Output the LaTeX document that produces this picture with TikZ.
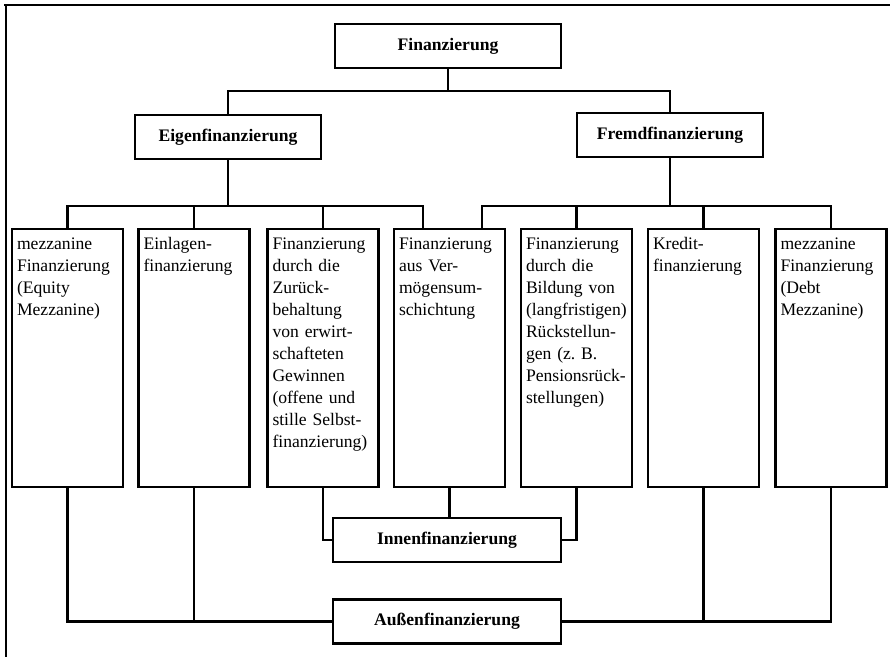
\documentclass[tikz,border=0pt]{standalone}
\usepackage{fontspec}
\setmainfont{Liberation Serif}
\usetikzlibrary{calc}
\frenchspacing
\begin{document}
\begin{tikzpicture}[x=1pt,y=-1pt,line width=2.7pt,line join=miter,
  head/.style={draw,minimum width=226pt,minimum height=44pt,inner sep=0pt,
    font=\fontsize{17.6}{22}\selectfont\bfseries},
  col/.style={draw,minimum width=111pt,minimum height=258pt,inner sep=0pt},
  coltext/.style={anchor=base west,inner sep=0pt,text width=106pt,align=left,
    font=\fontsize{17.6}{22}\selectfont},
  wire/.style={line width=2.5pt}
]
\useasboundingbox (0,0) rectangle (890,657);

% outer frame (top and left edges only)
\draw (4,5) -- (890,5);
\draw (6,5) -- (6,657);

% top levels
\node[head] (fin) at (448,46) {Finanzierung};
\node[head,minimum width=186pt] (eigen) at (228,137) {Eigenfinanzierung};
\node[head,minimum width=186pt] (fremd) at (670,135) {Fremdfinanzierung};

% column boxes
\node[col] (b1) at (67.5,358) {};
\node[col] (b2) at (194,358) {};
\node[col] (b3) at (323,358) {};
\node[col] (b4) at (449.5,358) {};
\node[col] (b5) at (576.5,358) {};
\node[col] (b6) at (703.5,358) {};
\node[col] (b7) at (831,358) {};

\node[coltext] (t1) at ($(b1.north west)+(5,22)$) {mezzanine\\Finanzierung\\(Equity\\Mezzanine)};
\node[coltext] (t2) at ($(b2.north west)+(5,22)$) {Einlagen-\\finanzierung};
\node[coltext] (t3) at ($(b3.north west)+(5,22)$) {Finanzierung\\durch die\\Zurück-\\behaltung\\von erwirt-\\schafteten\\Gewinnen\\(offene und\\stille Selbst-\\finanzierung)};
\node[coltext] (t4) at ($(b4.north west)+(5,22)$) {Finanzierung\\aus Ver-\\mögensum-\\schichtung};
\node[coltext] (t5) at ($(b5.north west)+(5,22)$) {Finanzierung\\durch die\\Bildung von\\(langfristigen)\\Rückstellun-\\gen (z.\ B.\\Pensionsrück-\\stellungen)};
\node[coltext] (t6) at ($(b6.north west)+(5,22)$) {Kredit-\\finanzierung};
\node[coltext] (t7) at ($(b7.north west)+(5,22)$) {mezzanine\\Finanzierung\\(Debt\\Mezzanine)};

% bottom levels
\node[head,minimum width=228pt] (innen) at (447,540) {Innenfinanzierung};
\node[head,minimum width=228pt] (aussen) at (447,621.5) {Außenfinanzierung};

% upper connectors
\coordinate (finbus) at (448,91);
\draw[wire] (fin.south) -- (finbus);
\draw[wire] (eigen.north) |- (finbus);
\draw[wire] (fremd.north) |- (finbus);

\coordinate (eigbus) at (228,206);
\draw[wire] (eigen.south) -- (eigbus);
\draw[wire] (b1.north) |- (eigbus);
\draw[wire] (b2.north) |- (eigbus);
\draw[wire] (b3.north) |- (eigbus);
\draw[wire] ([xshift=-26.5pt]b4.north) |- (eigbus);

\coordinate (frebus) at (670,206);
\draw[wire] (fremd.south) -- (frebus);
\draw[wire] ([xshift=32.5pt]b4.north) |- (frebus);
\draw[wire] (b5.north) |- (frebus);
\draw[wire] (b6.north) |- (frebus);
\draw[wire] (b7.north) |- (frebus);

% lower connectors
\draw[wire] (b3.south) |- (innen.west);
\draw[wire] (b4.south) -- (b4.south |- innen.north);
\draw[wire] (b5.south) |- (innen.east);

\draw[wire] (b1.south) |- (aussen.west);
\draw[wire] (b2.south) -- (b2.south |- aussen.west);
\draw[wire] (b7.south) |- (aussen.east);
\draw[wire] (b6.south) -- (b6.south |- aussen.east);
\end{tikzpicture}
\end{document}
